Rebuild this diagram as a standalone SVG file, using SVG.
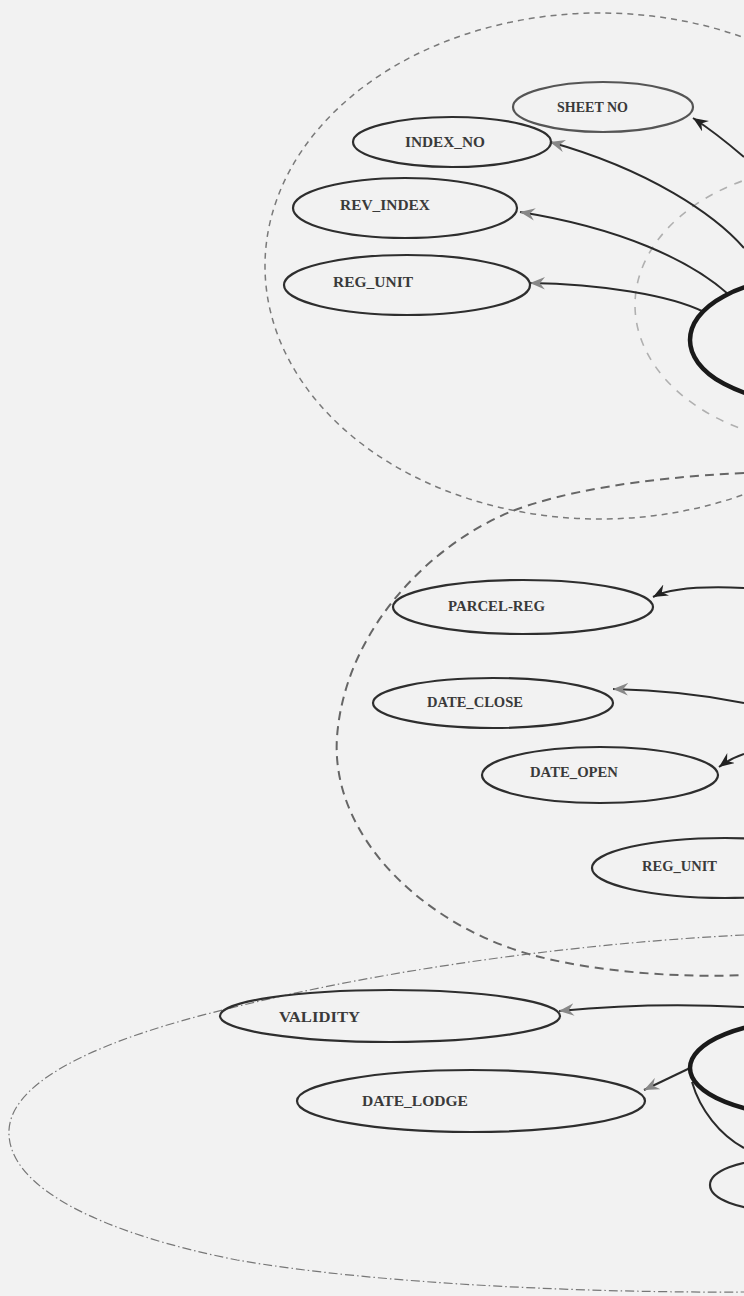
<svg xmlns="http://www.w3.org/2000/svg" width="744" height="1296" viewBox="0 0 744 1296">
<style>
.bg{fill:#f2f2f2}
.attr{fill:none;stroke:#2e2e2e;stroke-width:2.2}
.attr.light{stroke:#555}
.ent{fill:none;stroke:#1a1a1a;stroke-width:4.5}
.lbl{font-family:"Liberation Serif","Times New Roman",serif;font-weight:bold;font-size:15px;fill:#3a3a3a}
.c{fill:none;stroke:#2a2a2a;stroke-width:2}
.cl1{fill:none;stroke:#7a7a7a;stroke-width:1.5;stroke-dasharray:6 5}
.cl1in{fill:none;stroke:#b0b0b0;stroke-width:1.6;stroke-dasharray:8 8}
.cl2{fill:none;stroke:#666;stroke-width:2;stroke-dasharray:9 6}
.cl3{fill:none;stroke:#777;stroke-width:1.2;stroke-dasharray:9 3 1.5 3}
</style>
<defs>
<marker id="ad" viewBox="0 0 12 10" refX="12" refY="5" markerWidth="15" markerHeight="13" markerUnits="userSpaceOnUse" orient="auto">
<path d="M12,5 L0,0 L4,5 L0,10 Z" fill="#222"/>
</marker>
<marker id="ag" viewBox="0 0 12 10" refX="12" refY="5" markerWidth="15" markerHeight="13" markerUnits="userSpaceOnUse" orient="auto">
<path d="M12,5 L0,0 L4,5 L0,10 Z" fill="#888"/>
</marker>
</defs>
<rect class="bg" x="0" y="0" width="744" height="1296"/>

<g id="clusters">
<ellipse class="cl1" cx="600" cy="266" rx="335" ry="253"/>
<ellipse class="cl1in" cx="835" cy="305" rx="200" ry="140"/>
<path class="cl2" d="M 744 473 C 640 478, 560 492, 510 512 C 430 545, 345 630, 337 737 C 330 840, 430 930, 540 957 C 600 972, 680 978, 744 975"/>
<path class="cl3" d="M 744 935 C 600 942, 400 965, 223 1010 C 120 1035, 12 1075, 9 1130 C 6 1190, 110 1235, 237 1260 C 380 1285, 600 1293, 744 1292"/>
</g>

<g id="connectors">
<path class="c" d="M 744 157 Q 716 133 693 118" marker-end="url(#ad)"/>
<path class="c" d="M 744 248 C 715 215, 650 170, 550 142" marker-end="url(#ag)"/>
<path class="c" d="M 728 294 C 690 260, 620 228, 520 212" marker-end="url(#ag)"/>
<path class="c" d="M 704 312 C 670 295, 600 284, 530 283" marker-end="url(#ag)"/>
<path class="c" d="M 744 588 C 700 586, 670 588, 653 597" marker-end="url(#ad)"/>
<path class="c" d="M 744 703 C 700 694, 660 690, 613 689" marker-end="url(#ag)"/>
<path class="c" d="M 744 754 C 735 757, 727 761, 719 767" marker-end="url(#ad)"/>
<path class="c" d="M 744 1007 C 690 1004, 620 1005, 559 1011" marker-end="url(#ag)"/>
<path class="c" d="M 690 1068 L 644 1090" marker-end="url(#ag)"/>
<path class="c" d="M 692 1082 C 700 1110, 720 1135, 744 1148"/>
</g>

<g id="entity-top"><ellipse class="ent" cx="806" cy="340" rx="116" ry="62"/></g>
<g id="entity-bottom"><ellipse class="ent" cx="810" cy="1068" rx="120" ry="48"/></g>
<g id="node-bottom-small"><ellipse class="attr" cx="775" cy="1185" rx="65" ry="25"/></g>

<g id="sheet-no"><ellipse class="attr light" cx="603" cy="107" rx="90" ry="25"/><text class="lbl" x="557" y="112" textLength="71" lengthAdjust="spacingAndGlyphs">SHEET NO</text></g>
<g id="index-no"><ellipse class="attr" cx="452" cy="142" rx="99" ry="25"/><text class="lbl" x="405" y="147" textLength="80" lengthAdjust="spacingAndGlyphs">INDEX_NO</text></g>
<g id="rev-index"><ellipse class="attr" cx="405" cy="208" rx="112" ry="30"/><text class="lbl" x="340" y="210" textLength="90" lengthAdjust="spacingAndGlyphs">REV_INDEX</text></g>
<g id="reg-unit-top"><ellipse class="attr" cx="407" cy="285" rx="123" ry="30"/><text class="lbl" x="333" y="287" textLength="80" lengthAdjust="spacingAndGlyphs">REG_UNIT</text></g>

<g id="parcel-reg"><ellipse class="attr" cx="523" cy="607" rx="130" ry="27"/><text class="lbl" x="448" y="611" textLength="97" lengthAdjust="spacingAndGlyphs">PARCEL-REG</text></g>
<g id="date-close"><ellipse class="attr" cx="493" cy="703" rx="120" ry="25"/><text class="lbl" x="427" y="707" textLength="96" lengthAdjust="spacingAndGlyphs">DATE_CLOSE</text></g>
<g id="date-open"><ellipse class="attr" cx="600" cy="775" rx="118" ry="28"/><text class="lbl" x="530" y="777" textLength="88" lengthAdjust="spacingAndGlyphs">DATE_OPEN</text></g>
<g id="reg-unit-mid"><ellipse class="attr" cx="725" cy="868" rx="133" ry="30"/><text class="lbl" x="642" y="871" textLength="75" lengthAdjust="spacingAndGlyphs">REG_UNIT</text></g>

<g id="validity"><ellipse class="attr" cx="390" cy="1016" rx="170" ry="26"/><text class="lbl" x="279" y="1022" textLength="81" lengthAdjust="spacingAndGlyphs">VALIDITY</text></g>
<g id="date-lodge"><ellipse class="attr" cx="471" cy="1101" rx="174" ry="31"/><text class="lbl" x="362" y="1106" textLength="106" lengthAdjust="spacingAndGlyphs">DATE_LODGE</text></g>
</svg>
